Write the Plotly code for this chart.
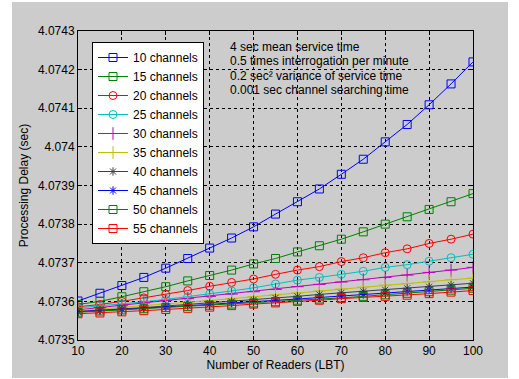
import plotly.graph_objects as go

readers = [10, 15, 20, 25, 30, 35, 40, 45, 50, 55, 60, 65, 70, 75, 80, 85, 90, 95, 100]

ch10 = [4.073601, 4.073621, 4.073641, 4.073662, 4.073686, 4.073711, 4.073738, 4.073764, 4.073793, 4.073826,
        4.073858, 4.073891, 4.073929, 4.073968, 4.074013, 4.074058, 4.074109, 4.074163, 4.074220]
ch15 = [4.073592, 4.073600, 4.073612, 4.073625, 4.073638, 4.073653, 4.073667, 4.073681, 4.073697, 4.073711,
        4.073728, 4.073744, 4.073761, 4.073780, 4.073800, 4.073819, 4.073838, 4.073858, 4.073879]
ch20 = [4.073586, 4.073592, 4.073600, 4.073609, 4.073618, 4.073628, 4.073639, 4.073649, 4.073658, 4.073670,
        4.073681, 4.073690, 4.073703, 4.073713, 4.073726, 4.073736, 4.073750, 4.073761, 4.073774]
ch25 = [4.073583, 4.073588, 4.073594, 4.073599, 4.073605, 4.073612, 4.073619, 4.073627, 4.073635, 4.073645,
        4.073655, 4.073662, 4.073670, 4.073678, 4.073688, 4.073695, 4.073704, 4.073713, 4.073722]
ch30 = [4.073578, 4.073584, 4.073590, 4.073596, 4.073602, 4.073607, 4.073613, 4.073619, 4.073625, 4.073631,
        4.073638, 4.073644, 4.073650, 4.073656, 4.073662, 4.073668, 4.073675, 4.073681, 4.073688]
ch35 = [4.073576, 4.073580, 4.073584, 4.073589, 4.073593, 4.073598, 4.073602, 4.073607, 4.073612, 4.073617,
        4.073622, 4.073627, 4.073632, 4.073637, 4.073642, 4.073646, 4.073651, 4.073656, 4.073660]
ch40 = [4.073574, 4.073577, 4.073581, 4.073584, 4.073588, 4.073592, 4.073596, 4.073600, 4.073604, 4.073609,
        4.073613, 4.073618, 4.073622, 4.073626, 4.073630, 4.073634, 4.073638, 4.073642, 4.073647]
ch45 = [4.073573, 4.073576, 4.073579, 4.073582, 4.073585, 4.073589, 4.073592, 4.073596, 4.073599, 4.073603,
        4.073606, 4.073610, 4.073614, 4.073618, 4.073622, 4.073626, 4.073630, 4.073633, 4.073637]
ch50 = [4.073572, 4.073575, 4.073578, 4.073581, 4.073584, 4.073587, 4.073590, 4.073593, 4.073596, 4.073599,
        4.073603, 4.073606, 4.073609, 4.073613, 4.073617, 4.073621, 4.073625, 4.073629, 4.073634]
ch55 = [4.073568, 4.073570, 4.073573, 4.073576, 4.073579, 4.073582, 4.073585, 4.073589, 4.073593, 4.073596,
        4.073600, 4.073603, 4.073607, 4.073610, 4.073613, 4.073616, 4.073620, 4.073624, 4.073628]

series_names = ["10 channels", "15 channels", "20 channels", "25 channels", "30 channels",
                "35 channels", "40 channels", "45 channels", "50 channels", "55 channels"]
series_values = [ch10, ch15, ch20, ch25, ch30, ch35, ch40, ch45, ch50, ch55]

x_ticks = [10, 20, 30, 40, 50, 60, 70, 80, 90, 100]
y_ticks = [4.0735, 4.0736, 4.0737, 4.0738, 4.0739, 4.0740, 4.0741, 4.0742, 4.0743]
y_tick_labels = ["4.0735", "4.0736", "4.0737", "4.0738", "4.0739", "4.074", "4.0741", "4.0742", "4.0743"]

notes = ["4 sec mean service time",
         "0.5 times interrogation per minute",
         "0.2 sec² variance of service time",
         "0.001 sec channel searching time"]

colors = ["#0000ff", "#008000", "#ff0000", "#00bfbf", "#bf00bf",
          "#bfbf00", "#404040", "#0000ff", "#008000", "#ff0000"]
symbols = ["square-open", "square-open", "circle-open", "circle-open", "cross-thin-open",
           "cross-thin-open", "asterisk-open", "asterisk-open", "square-open", "square-open"]
sizes = [8, 8, 8, 8, 9, 9, 7, 7, 8, 8]

FONT = "Liberation Sans, Arial, sans-serif"

fig = go.Figure()
for name, vals, c, s, sz in zip(series_names, series_values, colors, symbols, sizes):
    fig.add_trace(go.Scatter(
        x=readers, y=vals, name=name, mode="lines+markers",
        line=dict(color=c, width=1),
        marker=dict(symbol=s, size=sz, color=c, line=dict(color=c, width=1)),
    ))

L, R, T, B = 78, 46, 31, 39
W, H = 519, 379
pw, ph = W - L - R, H - T - B

# gray figure background (MATLAB style) with thin white outer border
fig.add_shape(type="rect", xref="paper", yref="paper",
              x0=(12 - L) / pw, x1=(508 - L) / pw,
              y0=(H - B - 378) / ph, y1=(H - B - 2) / ph,
              fillcolor="#cccccc", line=dict(width=0), layer="below")

for i, t in enumerate(notes):
    ypix = [46.7, 61, 75.7, 90][i]
    fig.add_annotation(xref="paper", yref="paper",
                       x=(228 - L) / pw, y=(H - B - ypix) / ph,
                       xanchor="left", yanchor="middle", showarrow=False,
                       text=t, font=dict(family=FONT, size=12, color="black"))

axis_common = dict(showline=True, linecolor="black", linewidth=1, mirror="allticks",
                   ticks="inside", ticklen=4, tickcolor="black",
                   showgrid=True, gridcolor="black", gridwidth=1, griddash="3px,3px",
                   zeroline=False, tickfont=dict(family=FONT, size=12, color="black"))

fig.update_xaxes(range=[10, 100], tickvals=x_ticks,
                 title=dict(text="Number of Readers (LBT)", font=dict(family=FONT, size=12, color="black"), standoff=3),
                 **axis_common)
fig.update_yaxes(range=[4.0735, 4.0743], tickvals=y_ticks, ticktext=y_tick_labels,
                 title=dict(text="Processing Delay (sec)", font=dict(family=FONT, size=12, color="black"), standoff=6),
                 **axis_common)

fig.update_layout(
    width=W, height=H,
    margin=dict(l=L, r=R, t=T, b=B, autoexpand=False),
    paper_bgcolor="white", plot_bgcolor="white",
    font=dict(family=FONT, size=12, color="black"),
    showlegend=True,
    legend=dict(x=(92 - L) / pw, y=(H - B - 42) / ph, xanchor="left", yanchor="top",
                bgcolor="white", bordercolor="black", borderwidth=1,
                font=dict(family=FONT, size=12, color="black"),
                itemwidth=30, tracegroupgap=0),
)

fig.write_html("out.html", config={"displayModeBar": False},
               post_script="document.body.style.margin='0';document.body.style.padding='0';")
